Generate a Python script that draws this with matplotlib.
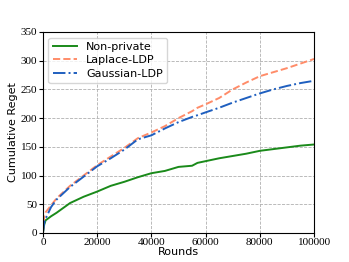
import numpy as np
import matplotlib.pyplot as plt

rounds = [0, 500, 1000, 3000, 5000, 10000, 15000, 20000, 25000, 30000, 35000, 40000,
          45000, 50000, 55000, 57000, 60000, 65000, 70000, 75000, 80000, 85000,
          90000, 95000, 100000]
non_private = [0, 15, 22, 29, 35, 52, 63, 72, 82, 89, 97, 104,
               108, 115, 117, 122, 125, 130, 134, 138, 143, 146, 149, 152, 154]
laplace_ldp = [0, 30, 36, 48, 60, 82, 100, 118, 133, 148, 165, 175,
               186, 200, 212, 218, 224, 235, 250, 262, 273, 280, 287, 295, 303]
gaussian_ldp = [0, 18, 25, 45, 58, 80, 98, 116, 130, 145, 163, 170,
                182, 193, 202, 205, 210, 218, 227, 235, 243, 250, 256, 261, 265]

fig = plt.figure(figsize=(3.49, 2.62), dpi=100)
ax = fig.add_axes([0.123, 0.111, 0.777, 0.767])

ax.plot(rounds, non_private, color='#1a8a1a', lw=1.4, label='Non-private')
ax.plot(rounds, laplace_ldp, color='#ff8c69', lw=1.4, ls='--', label='Laplace-LDP')
ax.plot(rounds, gaussian_ldp, color='#1f5fbf', lw=1.4, ls='-.', label='Gaussian-LDP')

ax.set_xlim(0, 100000)
ax.set_ylim(0, 350)
ax.set_xticks(np.arange(0, 100001, 20000))
ax.set_yticks(np.arange(0, 351, 50))
for lab in ax.get_xticklabels() + ax.get_yticklabels():
    lab.set_fontfamily('Liberation Serif')
    lab.set_fontsize(8)
ax.tick_params(length=3, pad=1)
ax.grid(True, ls='--', color='#b0b0b0', lw=0.6)

ax.set_xlabel('Rounds', fontsize=8, labelpad=0)
ax.set_ylabel('Cumulative Reget', fontsize=8, labelpad=2)
ax.legend(loc='upper left', fontsize=8, handlelength=2.2, borderpad=0.4, labelspacing=0.3)

fig.savefig('out.png', dpi=100)
